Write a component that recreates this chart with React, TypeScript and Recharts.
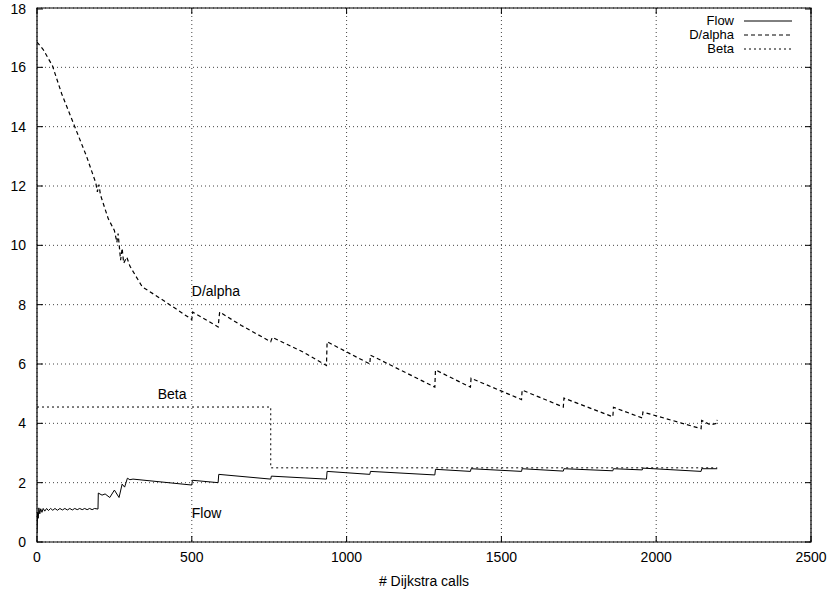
import React from "react";
import {
  LineChart,
  Line,
  XAxis,
  YAxis,
  CartesianGrid,
  Legend,
  ReferenceArea,
  ReferenceDot,
} from "recharts";

type Pt = { x: number; y: number };

const xTicks = [0, 500, 1000, 1500, 2000, 2500];
const yTicks = [0, 2, 4, 6, 8, 10, 12, 14, 16, 18];

// Flow: # Dijkstra calls vs value (vertical jumps are two points at the same x)
const flow: Pt[] = [
  { x: 0, y: 0.3 }, { x: 2, y: 1.0 }, { x: 4, y: 0.8 }, { x: 6, y: 1.15 },
  { x: 9, y: 0.95 }, { x: 12, y: 1.12 }, { x: 16, y: 1.0 }, { x: 20, y: 1.13 },
  { x: 25, y: 1.04 }, { x: 31, y: 1.13 }, { x: 37, y: 1.06 }, { x: 44, y: 1.13 },
  { x: 51, y: 1.07 }, { x: 58, y: 1.13 }, { x: 66, y: 1.07 }, { x: 74, y: 1.13 },
  { x: 82, y: 1.08 }, { x: 90, y: 1.13 }, { x: 98, y: 1.08 }, { x: 106, y: 1.13 },
  { x: 114, y: 1.08 }, { x: 122, y: 1.13 }, { x: 130, y: 1.09 }, { x: 138, y: 1.13 },
  { x: 146, y: 1.09 }, { x: 154, y: 1.13 }, { x: 162, y: 1.09 }, { x: 170, y: 1.13 },
  { x: 178, y: 1.09 }, { x: 186, y: 1.13 }, { x: 197, y: 1.11 }, { x: 198, y: 1.65 },
  { x: 210, y: 1.58 }, { x: 220, y: 1.62 }, { x: 235, y: 1.5 }, { x: 250, y: 1.75 },
  { x: 265, y: 1.5 }, { x: 275, y: 1.95 }, { x: 283, y: 1.85 }, { x: 292, y: 2.15 },
  { x: 300, y: 2.1 }, { x: 310, y: 2.12 }, { x: 500, y: 1.92 }, { x: 502, y: 2.08 },
  { x: 585, y: 2.0 }, { x: 587, y: 2.28 }, { x: 755, y: 2.12 }, { x: 757, y: 2.22 },
  { x: 935, y: 2.12 }, { x: 937, y: 2.38 }, { x: 1075, y: 2.28 }, { x: 1077, y: 2.38 },
  { x: 1285, y: 2.26 }, { x: 1287, y: 2.45 }, { x: 1400, y: 2.38 }, { x: 1402, y: 2.47 },
  { x: 1565, y: 2.38 }, { x: 1567, y: 2.47 }, { x: 1700, y: 2.39 }, { x: 1702, y: 2.47 },
  { x: 1860, y: 2.4 }, { x: 1862, y: 2.47 }, { x: 1955, y: 2.43 }, { x: 1957, y: 2.49 },
  { x: 2145, y: 2.38 }, { x: 2147, y: 2.47 }, { x: 2197, y: 2.47 },
];

const dAlpha: Pt[] = [
  { x: 0, y: 16.85 }, { x: 20, y: 16.6 }, { x: 50, y: 16.05 }, { x: 80, y: 15.1 },
  { x: 120, y: 14.05 }, { x: 160, y: 13.0 }, { x: 190, y: 12.1 }, { x: 195, y: 11.8 },
  { x: 200, y: 12.05 }, { x: 205, y: 11.7 }, { x: 230, y: 10.9 }, { x: 250, y: 10.5 },
  { x: 258, y: 10.1 }, { x: 262, y: 10.4 }, { x: 270, y: 9.5 }, { x: 275, y: 9.9 },
  { x: 280, y: 9.4 }, { x: 290, y: 9.6 }, { x: 300, y: 9.3 }, { x: 340, y: 8.6 },
  { x: 400, y: 8.2 }, { x: 450, y: 7.85 }, { x: 500, y: 7.5 }, { x: 503, y: 7.75 },
  { x: 585, y: 7.25 }, { x: 590, y: 7.75 }, { x: 660, y: 7.3 }, { x: 755, y: 6.75 },
  { x: 760, y: 6.9 }, { x: 860, y: 6.4 }, { x: 935, y: 5.95 }, { x: 937, y: 6.75 },
  { x: 1075, y: 6.0 }, { x: 1077, y: 6.3 }, { x: 1285, y: 5.22 }, { x: 1287, y: 5.8 },
  { x: 1400, y: 5.22 }, { x: 1402, y: 5.52 }, { x: 1565, y: 4.8 }, { x: 1567, y: 5.12 },
  { x: 1700, y: 4.55 }, { x: 1702, y: 4.85 }, { x: 1860, y: 4.22 }, { x: 1862, y: 4.54 },
  { x: 1955, y: 4.18 }, { x: 1957, y: 4.38 }, { x: 2145, y: 3.82 }, { x: 2147, y: 4.1 },
  { x: 2175, y: 3.95 }, { x: 2195, y: 4.0 }, { x: 2197, y: 4.12 },
];

const beta: Pt[] = [
  { x: 0, y: 4.55 }, { x: 755, y: 4.55 }, { x: 755, y: 2.5 }, { x: 2197, y: 2.5 },
];

const notes = [
  { text: "D/alpha", x: 500, y: 8.45 },
  { text: "Beta", x: 390, y: 4.98 },
  { text: "Flow", x: 500, y: 0.98 },
];

const legendItems = [
  { name: "Flow", dash: "" },
  { name: "D/alpha", dash: "4 3" },
  { name: "Beta", dash: "2 3" },
];

const FONT = "'Liberation Sans', Arial, Helvetica, sans-serif";
const PL = 37;
const PR = 811;
const PT = 8;
const PB = 542;
const ROW = 14;

const YTick = (props: any) => {
  const { y, payload } = props;
  return (
    <g>
      <line x1={PL} x2={PL + 6} y1={y} y2={y} stroke="#000" />
      <line x1={PR - 6} x2={PR} y1={y} y2={y} stroke="#000" />
      <text x={PL - 11} y={y} textAnchor="end" dominantBaseline="central"
        fontSize={14} fontFamily={FONT} fill="#000">
        {payload.value}
      </text>
    </g>
  );
};

const XTick = (props: any) => {
  const { x, payload } = props;
  return (
    <g>
      <line x1={x} x2={x} y1={PB - 6} y2={PB} stroke="#000" />
      <line x1={x} x2={x} y1={PT} y2={PT + 6} stroke="#000" />
      <text x={x} y={PB + 15} textAnchor="middle" dominantBaseline="central"
        fontSize={14} fontFamily={FONT} fill="#000">
        {payload.value}
      </text>
    </g>
  );
};

const LegendBox = () => (
  <div style={{ fontFamily: FONT, fontSize: 13, color: "#000" }}>
    {legendItems.map((it) => (
      <div key={it.name} style={{ display: "flex", alignItems: "center", height: ROW }}>
        <span style={{ width: 73, textAlign: "right", lineHeight: `${ROW}px`, height: ROW }}>
          {it.name}
        </span>
        <svg width={59} height={ROW} style={{ display: "block" }}>
          <line x1={10} x2={58} y1={ROW / 2} y2={ROW / 2} stroke="#000"
            strokeDasharray={it.dash || undefined} />
        </svg>
      </div>
    ))}
  </div>
);

export default function App() {
  return (
    <div style={{ position: "absolute", left: 0, top: 0, background: "#fff" }}>
      <LineChart
        width={839}
        height={600}
        margin={{ top: PT, right: 839 - PR, bottom: 28, left: 7 }}
      >
        <CartesianGrid stroke="#444" strokeDasharray="1 3" />
        <XAxis
          type="number"
          dataKey="x"
          domain={[0, 2500]}
          ticks={xTicks}
          allowDataOverflow
          height={30}
          axisLine={false}
          tickLine={false}
          tick={<XTick />}
          label={{
            value: "# Dijkstra calls",
            position: "bottom",
            offset: 4,
            fontSize: 14,
            fontFamily: FONT,
            fill: "#000",
          }}
        />
        <YAxis
          type="number"
          domain={[0, 18]}
          ticks={yTicks}
          allowDataOverflow
          width={30}
          axisLine={false}
          tickLine={false}
          tick={<YTick />}
        />
        <ReferenceArea x1={0} x2={2500} y1={0} y2={18} fill="none"
          stroke="#000" strokeWidth={1.2} ifOverflow="visible" />
        <Line data={flow} dataKey="y" name="Flow" type="linear" stroke="#000"
          strokeWidth={1} dot={false} isAnimationActive={false} />
        <Line data={dAlpha} dataKey="y" name="D/alpha" type="linear" stroke="#000"
          strokeWidth={1.2} strokeDasharray="4 3" dot={false} isAnimationActive={false} />
        <Line data={beta} dataKey="y" name="Beta" type="linear" stroke="#000"
          strokeWidth={1} strokeDasharray="2 3" dot={false} isAnimationActive={false} />
        {notes.map((n) => (
          <ReferenceDot key={n.text} x={n.x} y={n.y} r={0} fill="none" stroke="none"
            label={{ value: n.text, position: "right", offset: 0, fontSize: 14,
              fontFamily: FONT, fill: "#000" }} />
        ))}
        <Legend
          layout="vertical"
          align="center"
          verticalAlign="middle"
          content={<LegendBox />}
          wrapperStyle={{ top: 14, left: 661, width: 140 }}
        />
      </LineChart>
    </div>
  );
}
